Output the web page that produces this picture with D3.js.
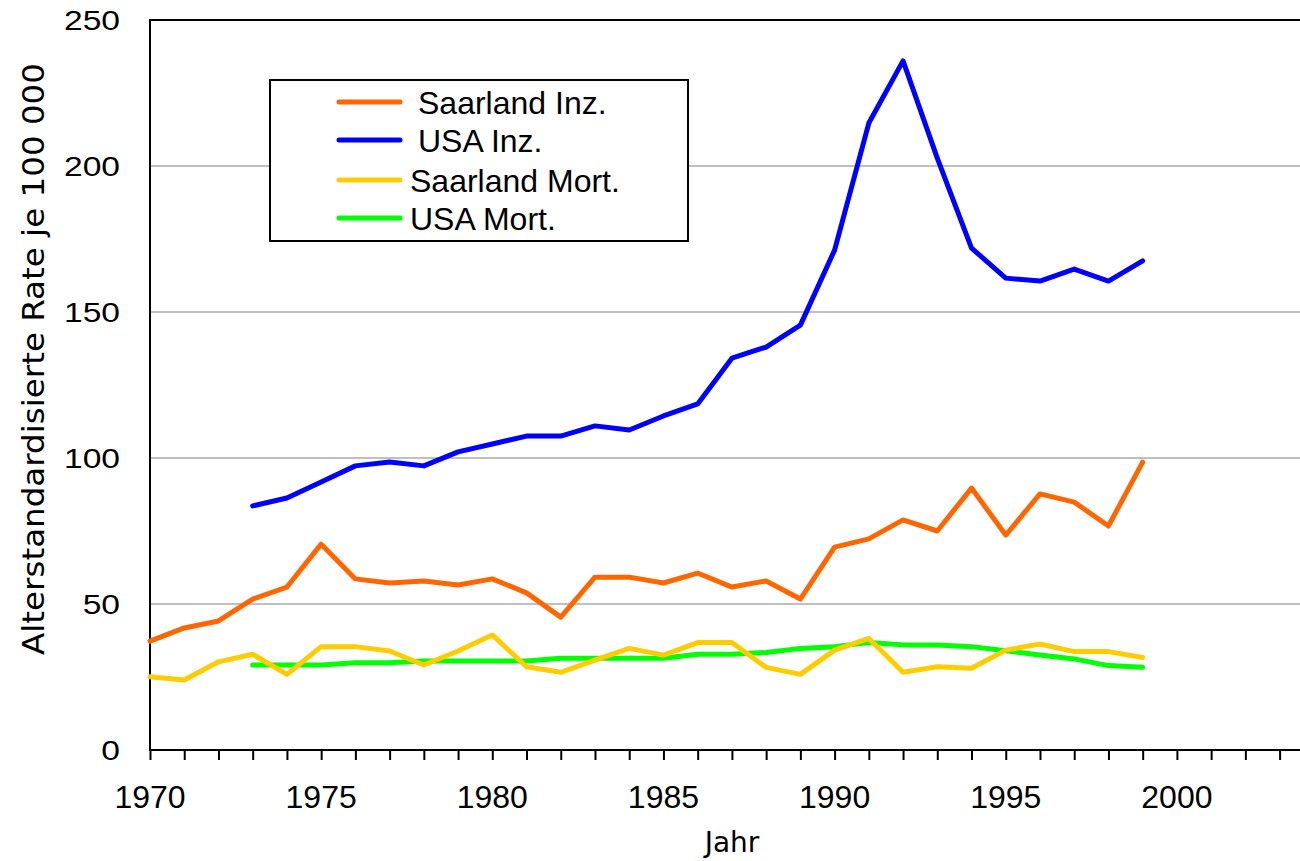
<!DOCTYPE html>
<html><head><meta charset="utf-8">
<script src="https://cdn.jsdelivr.net/npm/d3@7"></script>
<style>html,body{margin:0;padding:0;background:#fff;overflow:hidden}</style>
</head><body>
<svg id="chart" width="1300" height="861"></svg>
<script>
const yearsSaar = d3.range(1970, 2000);
const yearsUSA = d3.range(1973, 2000);
const saarlandInz = [37.3,41.8,44.2,51.7,55.8,70.5,58.6,57.2,57.9,56.5,58.6,53.8,45.5,59.2,59.2,57.2,60.6,55.8,57.9,51.7,69.5,72.3,78.8,75.0,89.7,73.6,87.7,84.9,76.7,98.6];
const usaInz = [83.6,86.3,91.8,97.3,98.6,97.3,102.1,104.8,107.5,107.5,111.0,109.6,114.4,118.5,134.2,138.0,145.5,171.2,214.7,236.0,202.7,171.9,161.6,160.6,164.7,160.6,167.5];
const saarlandMort = [25.1,24.0,30.2,32.8,25.9,35.4,35.4,33.9,29.1,33.9,39.4,28.5,26.6,30.8,34.8,32.5,36.8,36.8,28.3,25.9,34.2,38.2,26.6,28.5,28.0,34.2,36.3,33.7,33.7,31.7];
const usaMort = [29.1,29.1,29.1,29.9,29.9,30.5,30.5,30.5,30.5,31.4,31.4,31.4,31.4,32.8,32.8,33.4,34.8,35.4,36.8,36.0,36.0,35.4,34.0,32.5,31.2,28.9,28.3];
const seriesNames = ["Saarland Inz.","USA Inz.","Saarland Mort.","USA Mort."];
const seriesColors = ["#FF6600","#0000FF","#FFCC00","#00FF00"];
const yTicks = [0,50,100,150,200,250];
const xLabelTicks = [1970,1975,1980,1985,1990,1995,2000];
const xTitle = "Jahr";
const yTitle = "Alterstandardisierte Rate je 100 000";

const svg = d3.select("#chart");
const x = d3.scaleLinear().domain([1970, 2004]).range([150, 150 + 34 * 34.23]);
const y = d3.scaleLinear().domain([0, 250]).range([750, 20]);
const xEnd = 1300;

// gridlines
svg.append("g").selectAll("line").data(yTicks.filter(d => d > 0 && d < 250)).join("line")
  .attr("x1", 150).attr("x2", xEnd).attr("y1", d => y(d)).attr("y2", d => y(d))
  .attr("stroke", "#C0C0C0").attr("stroke-width", 2);
// top border
svg.append("line").attr("x1", 149).attr("x2", xEnd).attr("y1", y(250)).attr("y2", y(250))
  .attr("stroke", "#000").attr("stroke-width", 2);

// x axis
const xAxis = d3.axisBottom(x).tickValues(d3.range(1970, 2004)).tickSize(10).tickFormat("");
const gx = svg.append("g").attr("transform", `translate(0,${y(0)})`).call(xAxis);
gx.select(".domain").attr("d", `M149,0H${xEnd}`).attr("stroke", "#000").attr("stroke-width", 2);
gx.selectAll(".tick line").attr("stroke", "#000").attr("stroke-width", 2);
svg.append("g").selectAll("text").data(xLabelTicks).join("text")
  .attr("x", d => x(d)).attr("y", 808).attr("text-anchor", "middle")
  .attr("font-family", "Liberation Sans, Arial, sans-serif").attr("font-size", 32)
  .attr("fill", "#000").text(d => d);

// y axis
svg.append("line").attr("x1", 150).attr("x2", 150).attr("y1", y(250) - 1).attr("y2", y(0) + 1)
  .attr("stroke", "#000").attr("stroke-width", 2);
svg.append("g").selectAll("text").data(yTicks).join("text")
  .attr("transform", d => `translate(120,${y(d) + 10}) scale(1.2,1)`)
  .attr("text-anchor", "end")
  .attr("font-family", "Liberation Sans, Arial, sans-serif").attr("font-size", 28)
  .attr("fill", "#000").text(d => d);

// titles
svg.append("text").attr("x", 732).attr("y", 852).attr("text-anchor", "middle")
  .attr("font-family", "DejaVu Sans, Verdana, sans-serif").attr("font-size", 28)
  .attr("fill", "#000").text(xTitle);
svg.append("text").attr("transform", "translate(44,359) rotate(-90)")
  .attr("text-anchor", "middle")
  .attr("font-family", "DejaVu Sans Condensed, DejaVu Sans, sans-serif").attr("font-size", 30)
  .attr("textLength", 592).attr("lengthAdjust", "spacingAndGlyphs")
  .attr("fill", "#000").text(yTitle);

// lines
const line = d3.line().x(d => x(d[0])).y(d => y(d[1]));
const data = [
  d3.zip(yearsSaar, saarlandInz),
  d3.zip(yearsUSA, usaInz),
  d3.zip(yearsSaar, saarlandMort),
  d3.zip(yearsUSA, usaMort)
];
const drawOrder = [3, 2, 0, 1];
svg.append("g").selectAll("path").data(drawOrder).join("path")
  .attr("d", i => line(data[i])).attr("fill", "none")
  .attr("stroke", i => seriesColors[i]).attr("stroke-width", 5)
  .attr("stroke-linejoin", "round").attr("stroke-linecap", "round");

// legend
const lg = svg.append("g");
lg.append("rect").attr("x", 270).attr("y", 80).attr("width", 418).attr("height", 161)
  .attr("fill", "#fff").attr("stroke", "#000").attr("stroke-width", 2);
const rowsY = [102, 140, 180, 218];
const textX = [418, 418, 410, 410];
const rows = lg.selectAll("g.row").data(seriesNames).join("g").attr("class", "row");
rows.append("line").attr("x1", 339).attr("x2", 400)
  .attr("y1", (d, i) => rowsY[i]).attr("y2", (d, i) => rowsY[i])
  .attr("stroke", (d, i) => seriesColors[i]).attr("stroke-width", 5).attr("stroke-linecap", "round");
rows.append("text").attr("x", (d, i) => textX[i]).attr("y", (d, i) => rowsY[i] + 12)
  .attr("font-family", "Liberation Sans, Arial, sans-serif").attr("font-size", 32)
  .attr("fill", "#000").text(d => d);
</script>
</body></html>
